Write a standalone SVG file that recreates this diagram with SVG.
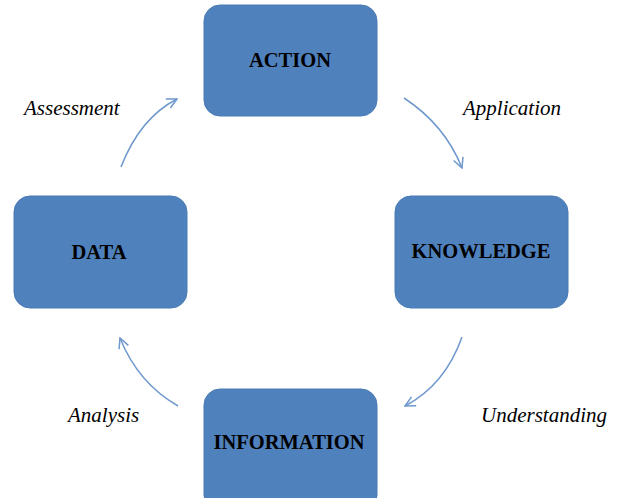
<svg xmlns="http://www.w3.org/2000/svg" width="617" height="498" viewBox="0 0 617 498">
<style>
.box{fill:#4F81BD;stroke:#4A7AB5;stroke-width:1}
.lbl{font-family:"Liberation Serif",serif;font-weight:bold;font-size:20.5px;fill:#000;text-anchor:middle}
.cap{font-family:"Liberation Serif",serif;font-style:italic;font-size:21px;fill:#000}
.arr{fill:none;stroke:#6F98CD;stroke-width:1.5;marker-end:url(#ah)}
</style>
<defs>
<marker id="ah" viewBox="0 0 12 12" refX="11" refY="6" markerWidth="12" markerHeight="12" markerUnits="userSpaceOnUse" orient="auto">
<path d="M1,1 L11,6 L1,11" fill="none" stroke="#6F98CD" stroke-width="1.5"/>
</marker>
</defs>
<rect width="617" height="498" fill="#fff"/>
<g id="action"><rect class="box" x="204" y="5" width="173" height="111" rx="16"/><text class="lbl" x="290" y="67">ACTION</text></g>
<g id="knowledge"><rect class="box" x="395" y="196" width="173" height="112" rx="16"/><text class="lbl" x="481" y="258">KNOWLEDGE</text></g>
<g id="data"><rect class="box" x="14" y="196" width="173" height="112" rx="16"/><text class="lbl" x="99" y="259">DATA</text></g>
<g id="information"><rect class="box" x="204" y="389" width="173" height="122" rx="16"/><text class="lbl" x="289" y="449">INFORMATION</text></g>
<g id="connectors">
<path class="arr" d="M121,167 Q140,118 177,99"/>
<path class="arr" d="M404,98 Q445,125 462,168"/>
<path class="arr" d="M462,337 Q445,385 405,406"/>
<path class="arr" d="M178,406 Q138,383 120,338"/>
</g>
<g id="captions">
<text class="cap" x="24" y="115">Assessment</text>
<text class="cap" x="463" y="115">Application</text>
<text class="cap" x="481" y="422">Understanding</text>
<text class="cap" x="68" y="422">Analysis</text>
</g>
</svg>
